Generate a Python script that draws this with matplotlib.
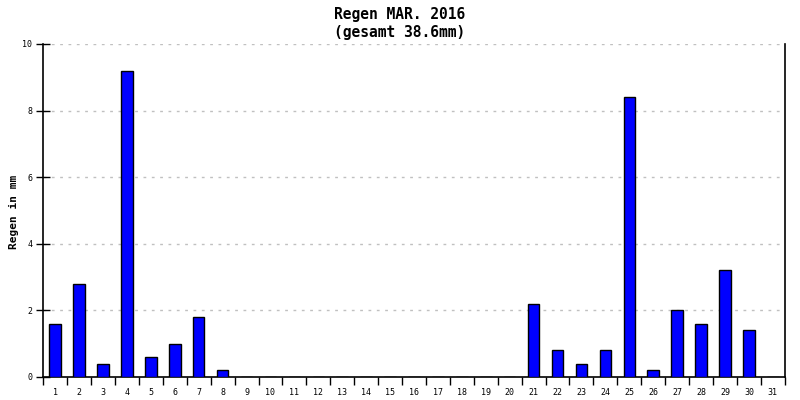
import numpy as np
import matplotlib.pyplot as plt

days = list(range(1, 32))
rain = [1.6, 2.8, 0.4, 9.2, 0.6, 1.0, 1.8, 0.2, 0, 0,
        0, 0, 0, 0, 0, 0, 0, 0, 0, 0,
        2.2, 0.8, 0.4, 0.8, 8.4, 0.2, 2.0, 1.6, 3.2, 1.4, 0]
yticks = [0, 2, 4, 6, 8, 10]

plt.rcParams['font.family'] = ['DejaVu Sans Mono']

fig = plt.figure(figsize=(8, 4), dpi=100)
ax = fig.add_axes([0.054, 0.0575, 0.927, 0.8325])

ax.bar(days, rain, width=0.48, color='#0000ff', edgecolor='black', linewidth=1, zorder=3)

ax.set_xlim(0.5, 31.5)
ax.set_ylim(0, 10)

# ticks between the days, labels in the middle
ax.set_xticks(np.arange(0.5, 32, 1))
ax.set_xticklabels([])
ax.set_xticks(days, minor=True)
ax.set_xticklabels([str(d) for d in days], minor=True, fontsize=6)
ax.tick_params(axis='x', which='major', direction='out', length=6, width=1)
ax.tick_params(axis='x', which='minor', length=0, pad=8)

ax.set_yticks(yticks)
ax.set_yticklabels([str(v) for v in yticks], fontsize=6)
ax.tick_params(axis='y', direction='inout', length=10, width=1, pad=3)

for v in yticks[1:]:
    ax.axhline(v, color='#c0c0c0', linestyle=(0, (2, 4)), linewidth=1, zorder=1)

ax.spines['top'].set_visible(False)
for s in ['left', 'right', 'bottom']:
    ax.spines[s].set_linewidth(1.2)

fig.text(14 / 800, 0.47, 'Regen in mm', rotation=90, ha='center', va='center',
         fontsize=8, fontweight='bold')
fig.text(0.5, 0.965, 'Regen MAR. 2016', ha='center', va='center', fontsize=10.5, fontweight='bold')
fig.text(0.5, 0.92, '(gesamt 38.6mm)', ha='center', va='center', fontsize=10.5, fontweight='bold')

plt.savefig('out.png')
